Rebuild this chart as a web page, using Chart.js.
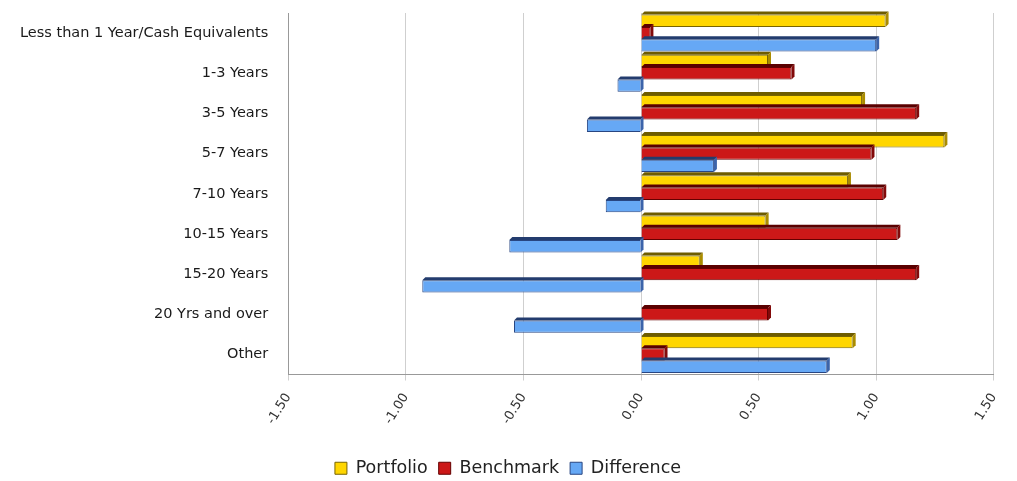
<!DOCTYPE html>
<html>
<head>
<meta charset="utf-8">
<script src="https://cdn.jsdelivr.net/npm/chart.js@4/dist/chart.umd.min.js"></script>
<style>
  body { margin: 0; background: #fff; }
  #wrap { width: 1017px; height: 481px; }
</style>
</head>
<body>
<div id="wrap"><canvas id="myChart"></canvas></div>
<script>
// data
const categories = [
  'Less than 1 Year/Cash Equivalents',
  '1-3 Years',
  '3-5 Years',
  '5-7 Years',
  '7-10 Years',
  '10-15 Years',
  '15-20 Years',
  '20 Yrs and over',
  'Other'
];
const portfolio  = [1.04, 0.54, 0.94, 1.29, 0.88, 0.53, 0.25, 0.00, 0.90];
const benchmark  = [0.04, 0.64, 1.17, 0.98, 1.03, 1.09, 1.17, 0.54, 0.10];
const difference = [1.00, -0.10, -0.23, 0.31, -0.15, -0.56, -0.93, -0.54, 0.79];
const xTicks = [-1.5, -1.0, -0.5, 0, 0.5, 1.0, 1.5];

// little 3d look: top and right faces on every bar
const bar3d = {
  id: 'bar3d',
  afterDatasetsDraw(chart) {
    const ctx = chart.ctx;
    const d = 3;
    chart.data.datasets.forEach((ds, i) => {
      const meta = chart.getDatasetMeta(i);
      meta.data.forEach((bar, j) => {
        if (ds.data[j] === 0) return;
        const left = Math.min(bar.x, bar.base);
        const right = Math.max(bar.x, bar.base);
        const top = bar.y - bar.height / 2;
        const bottom = bar.y + bar.height / 2;
        ctx.save();
        ctx.fillStyle = ds.topColor;
        ctx.beginPath();
        ctx.moveTo(left, top);
        ctx.lineTo(left + d, top - d);
        ctx.lineTo(right + d, top - d);
        ctx.lineTo(right, top);
        ctx.closePath();
        ctx.fill();
        ctx.fillStyle = ds.sideColor;
        ctx.beginPath();
        ctx.moveTo(right, top);
        ctx.lineTo(right + d, top - d);
        ctx.lineTo(right + d, bottom - d);
        ctx.lineTo(right, bottom);
        ctx.closePath();
        ctx.fill();
        ctx.restore();
      });
    });
  }
};

const data = {
  labels: categories,
  datasets: [
    {
      label: 'Portfolio',
      data: portfolio,
      backgroundColor: 'rgb(255, 214, 0)',
      borderColor: 'rgb(120, 100, 0)',
      borderWidth: 1,
      topColor: 'rgb(110, 92, 0)',
      sideColor: 'rgb(170, 140, 0)'
    },
    {
      label: 'Benchmark',
      data: benchmark,
      backgroundColor: 'rgb(204, 24, 24)',
      borderColor: 'rgb(100, 0, 0)',
      borderWidth: 1,
      topColor: 'rgb(90, 0, 0)',
      sideColor: 'rgb(130, 10, 10)'
    },
    {
      label: 'Difference',
      data: difference,
      backgroundColor: 'rgb(102, 168, 245)',
      borderColor: 'rgb(40, 70, 130)',
      borderWidth: 1,
      topColor: 'rgb(35, 60, 110)',
      sideColor: 'rgb(60, 100, 170)'
    }
  ]
};

const config = {
  type: 'bar',
  data,
  plugins: [bar3d],
  options: {
    indexAxis: 'y',
    responsive: true,
    maintainAspectRatio: false,
    animation: false,
    categoryPercentage: 0.92,
    barPercentage: 1.0,
    layout: { padding: { top: 13, right: 9, left: 8, bottom: -6 } },
    plugins: {
      legend: {
        position: 'bottom',
        labels: {
          boxWidth: 12,
          boxHeight: 12,
          padding: 11,
          color: '#222',
          font: { family: 'DejaVu Sans', size: 17.5 }
        }
      },
      tooltip: { enabled: false }
    },
    scales: {
      x: {
        min: -1.5,
        max: 1.5,
        afterBuildTicks: (axis) => { axis.ticks = xTicks.map(v => ({ value: v })); },
        afterFit: (axis) => { axis.height = 74; },
        ticks: {
          minRotation: 58,
          maxRotation: 58,
          padding: 10,
          color: '#333',
          font: { family: 'DejaVu Sans', size: 13 },
          callback: (v) => Number(v).toFixed(2)
        },
        grid: { color: '#cfcfcf', tickLength: 6 },
        border: { color: '#999' }
      },
      y: {
        afterFit: (axis) => { axis.paddingTop = 0; axis.paddingBottom = 0; },
        ticks: {
          color: '#1a1a1a',
          font: { family: 'DejaVu Sans', size: 14.5 },
          padding: 12
        },
        grid: { display: false },
        border: { color: '#999' }
      }
    }
  }
};

const myChart = new Chart(document.getElementById('myChart'), config);
</script>
</body>
</html>
